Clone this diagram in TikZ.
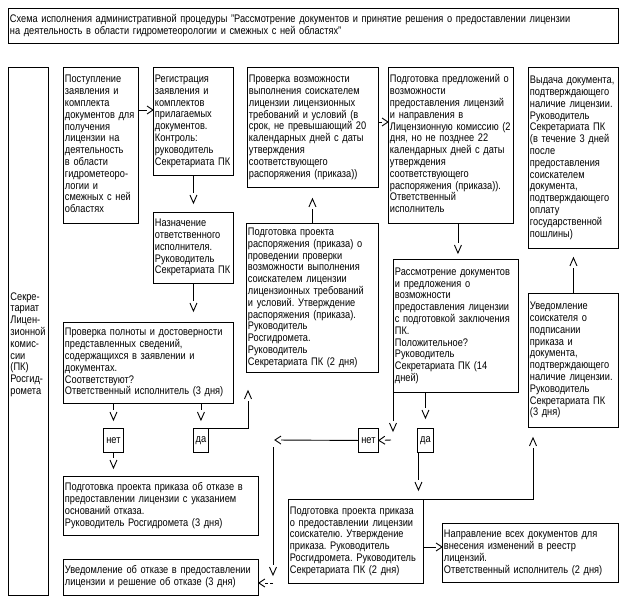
\documentclass[tikz,border=0pt]{standalone}
\usepackage{fontspec}
\setmainfont{Liberation Sans}[FakeStretch=0.84]
\usetikzlibrary{arrows.meta,calc}
\newdimen\chevtmp
\pgfdeclarearrow{
  name = Chev,
  parameters = {\the\pgfarrowlength,\the\pgfarrowwidth,\the\pgfarrowinset},
  setup code = {
    \pgfarrowssettipend{0pt}
    \chevtmp=\pgfarrowlength
    \advance\chevtmp by \pgfarrowinset
    \pgfarrowssetlineend{-\chevtmp}
    \pgfarrowssetbackend{-\chevtmp}
    \pgfarrowssavethe\pgfarrowlength
    \pgfarrowssavethe\pgfarrowwidth
  },
  drawing code = {
    \pgfsetdash{}{0pt}
    \pgfsetmiterjoin
    \pgfpathmoveto{\pgfqpoint{-\pgfarrowlength}{.5\pgfarrowwidth}}
    \pgfpathlineto{\pgfpointorigin}
    \pgfpathlineto{\pgfqpoint{-\pgfarrowlength}{-.5\pgfarrowwidth}}
    \pgfusepathqstroke
  },
  defaults = {length=7pt, width=7pt, inset=2pt}
}
\newcommand\diagfont{\fontsize{11}{11.8}\selectfont\frenchspacing}
\newcommand\blines[1]{\noindent\begin{tabular}{@{}l@{}}#1\end{tabular}}
\begin{document}
\begin{tikzpicture}[x=1pt,y=-1pt, line width=0.9pt,
  box/.style={draw, anchor=north west, inner xsep=1.5pt, inner ysep=0pt, font=\diagfont},
  tag/.style={draw, anchor=north west, inner sep=0pt, font=\diagfont},
  va/.style={-{Chev[length=8pt,width=7pt,inset=2pt]}},
  ha/.style={-{Chev[length=6pt,width=8pt,inset=0pt]}}]
\fill[white] (0,0) rectangle (627,605);
\useasboundingbox (0,0) rectangle (627,605);

\node[box, text width=607pt, minimum height=35pt] (title) at (8,8)
 {\blines{Схема исполнения административной процедуры "Рассмотрение документов и принятие решения о предоставлении лицензии\\
  на деятельность в области гидрометеорологии и смежных с ней областях"}};

\node[draw, anchor=north west, inner sep=0pt, minimum width=40pt, minimum height=528pt] (lane) at (8,67) {};
\node[anchor=north west, inner sep=0pt, align=left, font=\diagfont] (lanetext) at (10,292)
 {Секре-\\тариат\\Лицен-\\зионной\\комис-\\сии\\(ПК)\\Росгид-\\ромета};

\node[box, text width=72pt, minimum height=156pt] (b1) at (63,67)
 {\blines{Поступление\\заявления и\\комплекта\\документов для\\получения\\лицензии на\\деятельность\\в области\\гидрометеоро-\\логии и\\смежных с ней\\областях}};
\node[box, text width=77pt, minimum height=108pt] (b2) at (153,67)
 {\blines{Регистрация\\заявления и\\комплектов\\прилагаемых\\документов.\\Контроль:\\руководитель\\Секретариата ПК}};
\node[box, text width=128pt, minimum height=120pt] (b3) at (247,67)
 {\blines{Проверка возможности\\выполнения соискателем\\лицензии лицензионных\\требований и условий (в\\срок, не превышающий 20\\календарных дней с даты\\утверждения\\соответствующего\\распоряжения (приказа))}};
\node[box, text width=122pt, minimum height=156pt] (b4) at (388,67)
 {\blines{Подготовка предложений о\\возможности\\предоставления лицензий\\и направления в\\Лицензионную комиссию (2\\дня, но не позднее 22\\календарных дней с даты\\утверждения\\соответствующего\\распоряжения (приказа)).\\Ответственный\\исполнитель}};
\node[box, text width=87pt, minimum height=181pt] (b5) at (528,67)
 {\blines{Выдача документа,\\подтверждающего\\наличие лицензии.\\Руководитель\\Секретариата ПК\\(в течение 3 дней\\после\\предоставления\\соискателем\\документа,\\подтверждающего\\оплату\\государственной\\пошлины)}};
\node[box, text width=77pt, minimum height=71pt] (b6) at (153,212)
 {\blines{Назначение\\ответственного\\исполнителя.\\Руководитель\\Секретариата ПК}};
\node[box, text width=129pt, minimum height=149pt] (b7) at (246,223)
 {\blines{Подготовка проекта\\распоряжения (приказа) о\\проведении проверки\\возможности выполнения\\соискателем лицензии\\лицензионных требований\\и условий. Утверждение\\распоряжения (приказа).\\Руководитель\\Росгидромета.\\Руководитель\\Секретариата ПК (2 дня)}};
\node[box, text width=122pt, minimum height=133pt] (b8) at (393,259)
 {\blines{Рассмотрение документов\\и предложения о\\возможности\\предоставления лицензии\\с подготовкой заключения\\ПК.\\Положительное?\\Руководитель\\Секретариата ПК (14\\дней)}};
\node[box, text width=87pt, minimum height=134pt] (b9) at (528,293)
 {\blines{Уведомление\\соискателя о\\подписании\\приказа и\\документа,\\подтверждающего\\наличие лицензии.\\Руководитель\\Секретариата ПК\\(3 дня)}};
\node[box, text width=167pt, minimum height=81pt] (b10) at (63,322)
 {\blines{Проверка полноты и достоверности\\представленных сведений,\\содержащихся в заявлении и\\документах.\\Соответствуют?\\Ответственный исполнитель (3 дня)}};
\node[tag, minimum width=20pt, minimum height=24pt] (net1) at (103,428) {нет};
\node[tag, minimum width=15pt, minimum height=24pt] (da1) at (193,428) {да};
\node[tag, minimum width=20pt, minimum height=24pt] (net2) at (358,428) {нет};
\node[tag, minimum width=16pt, minimum height=24pt] (da2) at (417,428) {да};
\node[box, text width=192pt, minimum height=59pt] (b11) at (63,476)
 {\blines{Подготовка проекта приказа об отказе в\\предоставлении лицензии с указанием\\оснований отказа.\\Руководитель Росгидромета (3 дня)}};
\node[box, text width=192pt, minimum height=36pt] (b12) at (63,559)
 {\blines{Уведомление об отказе в предоставлении\\лицензии и решение об отказе (3 дня)}};
\node[box, text width=132pt, minimum height=84pt] (b13) at (288,499)
 {\blines{Подготовка проекта приказа\\о предоставлении лицензии\\соискателю. Утверждение\\приказа. Руководитель\\Росгидромета. Руководитель\\Секретариата ПК (2 дня)}};
\node[box, text width=173pt, minimum height=59pt] (b14) at (442,523)
 {\blines{Направление всех документов для\\внесения изменений в реестр\\лицензий.\\Ответственный исполнитель (2 дня)}};

% connectors
\draw[ha] ([yshift=-43pt]b1.north east) -- ([yshift=-43pt]b2.north west);
\draw[va, shorten >=9pt] (b2.south) -- (b6.north);
\draw[va, shorten >=11pt] (b6.south) -- (b6.south |- b10.north);
\draw[va, shorten >=8pt] (b10.south -| net1.north) -- (net1.north);
\draw[va, shorten >=8pt] (b10.south -| da1.north) -- (da1.north);
\draw[va, shorten >=8pt] (net1.south) -- (net1.south |- b11.north);
\draw[va, shorten >=18pt] (da1.north east) -| ([xshift=2pt]b7.south west);
\draw[va, shorten >=11pt] (b7.north) -- (b7.north |- b3.south);
\draw[ha] ([yshift=-55pt]b3.north east) -- ([yshift=-55pt]b4.north west);
\coordinate (p4) at ([xshift=7pt]b4.south);
\draw[va, shorten >=6pt] (p4) -- (p4 |- b8.north);
\draw[va, shorten >=10pt] (da2.north |- b8.south) -- (da2.north);
\coordinate (k1) at (393,431);
\draw[va] (b8.south west) -- (k1);
\coordinate (k2) at (391,440);
\draw[ha] (k2) -- (net2.east);
\coordinate (k3) at (275,440);
\draw[ha] (net2.west) -- (k3);
\coordinate (k4) at (273,447);
\coordinate (k5) at (273,575);
\draw[va] (k4) -- (k5);
\coordinate (k6) at (273,583);
\draw[ha, dash pattern=on 3pt off 2pt] (k6) -- (k6 -| b12.east);
\coordinate (d2s) at ([xshift=-7pt]da2.south);
\draw[va, shorten >=9pt] (d2s) -- (d2s |- b13.north);
\draw[va, shorten >=10pt] (b13.north east) -| ([xshift=5pt]b9.south west);
\coordinate (h1) at ([yshift=-48pt]b13.north east);
\draw[ha] (h1) -- (h1 -| b14.west);
\draw[va, shorten >=9pt] (b9.north) -- (b5.south);
\end{tikzpicture}
\end{document}
